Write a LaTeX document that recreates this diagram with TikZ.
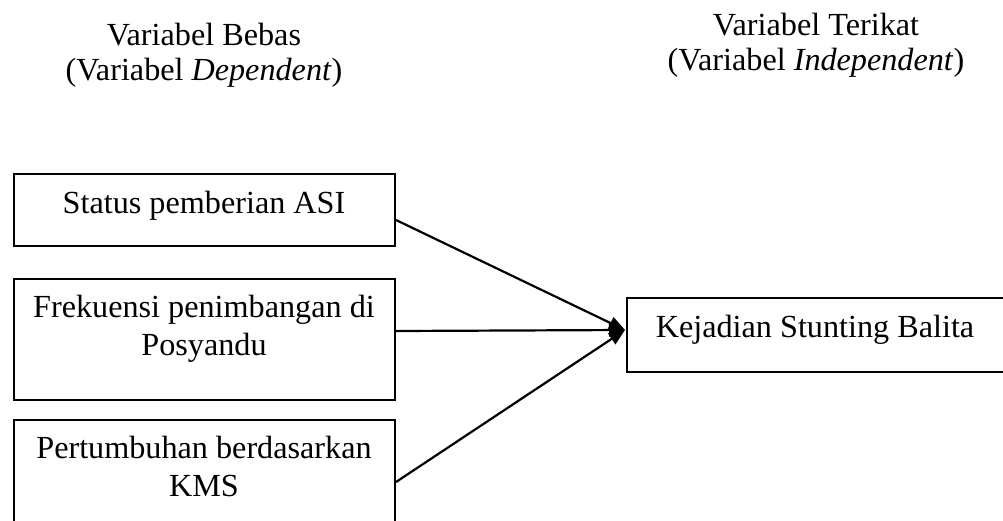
\documentclass[tikz,border=0pt]{standalone}
\usepackage{fontspec}
\setmainfont{Liberation Serif}
\usetikzlibrary{arrows.meta}
\newcommand\myfs{\fontsize{32.2}{38}\selectfont}
\newcommand\mytitlefs{\fontsize{32.2}{35}\selectfont}
\tikzset{
  box/.style={draw, line width=2pt, inner sep=0pt, anchor=north west},
  txt/.style={font=\myfs, anchor=base, inner sep=0pt},
  ttl/.style={font=\mytitlefs, anchor=base, inner sep=0pt},
  conn/.style={line width=2.2pt, -{Triangle[length=16pt,width=13pt]}}
}
\begin{document}
\begin{tikzpicture}[x=1pt,y=-1pt]
\useasboundingbox (0,0) rectangle (1003,520);
\clip (0,0) rectangle (1003,520);
% titles
\node[ttl] (tl) at (204,45) {\begin{tabular}[t]{@{}c@{}}Variabel Bebas\\(Variabel \textit{Dependent})\end{tabular}};
\node[ttl] (tr) at (816,35) {\begin{tabular}[t]{@{}c@{}}Variabel Terikat\\(Variabel \textit{Independent})\end{tabular}};
% boxes
\node[box, minimum width=381pt, minimum height=72pt] (b1) at (13,173) {};
\node[box, minimum width=381pt, minimum height=121pt] (b2) at (13,278) {};
\node[box, minimum width=381pt, minimum height=121pt] (b3) at (13,419) {};
\node[box, minimum width=378pt, minimum height=74pt] (k) at (626,297) {};
% texts
\node[txt] (t1) at (204,213) {Status pemberian ASI};
\node[txt] (t2) at (204,317) {\begin{tabular}[t]{@{}c@{}}Frekuensi penimbangan di\\Posyandu\end{tabular}};
\node[txt] (t3) at (204,458) {\begin{tabular}[t]{@{}c@{}}Pertumbuhan berdasarkan\\KMS\end{tabular}};
\node[txt] (tk) at (815,337) {Kejadian Stunting Balita};
% connectors
\coordinate (tip) at (625,330);
\draw[conn] ([yshift=-10pt]b1.east) -- (tip);
\draw[conn] ([yshift=8.5pt]b2.east) -- (tip);
\draw[conn] ([yshift=-1.5pt]b3.east) -- (tip);
\end{tikzpicture}
\end{document}
